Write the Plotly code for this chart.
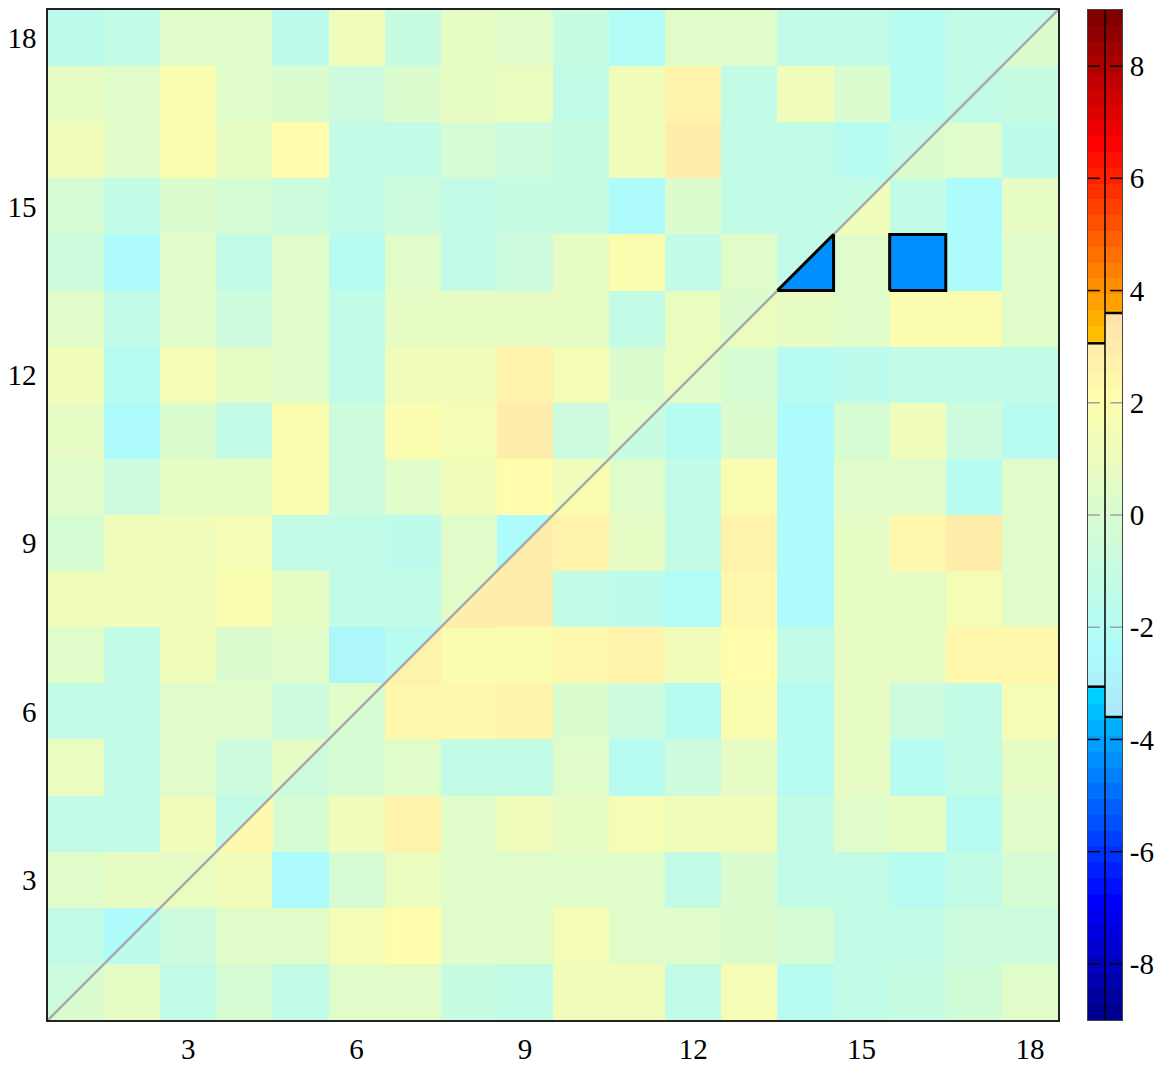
import numpy as np
import plotly.graph_objects as go

# ---------------- data (rows listed from y=18 at top down to y=1) ----------------
N = 18
row_values = [
    [-1.5, -1.2, 0.3, 0.3, -1.5, 1.2, -1.0, 0.8, 0.4, -1.0, -2.2, 0.3, 0.3, -1.2, -1.2, -1.9, -1.2, None],
    [0.6, 0.4, 1.8, 0.3, 0.2, -0.7, 0.0, 0.6, 0.9, -1.2, 1.4, 2.7, -1.2, 1.2, 0.0, -1.9, None, -1.0],
    [1.3, 0.4, 1.8, 0.8, 2.1, -1.2, -1.2, -0.2, -0.6, -1.0, 1.3, 2.9, -1.2, -1.2, -1.9, None, 0.3, -1.5],
    [-0.2, -1.2, 0.2, -0.2, -0.7, -1.2, -0.7, -1.2, -1.0, -0.9, -2.3, 0.0, -1.2, -1.2, None, -1.2, -2.5, 0.6],
    [-0.7, -2.5, 0.3, -1.2, 0.3, -1.9, 0.3, -1.2, -0.8, 0.6, 1.8, -1.2, 0.3, None, 0.3, -4.4, -2.5, 0.3],
    [0.3, -1.2, 0.3, -0.7, 0.3, -1.2, 0.6, 0.6, 0.6, 0.8, -1.2, 1.1, None, 0.8, 0.3, 1.8, 1.8, 0.3],
    [1.2, -1.7, 1.6, 0.6, 0.4, -1.2, 1.2, 1.2, 2.6, 1.5, 0.0, None, -0.2, -1.9, -1.6, -1.2, -1.2, -1.2],
    [0.6, -2.5, 0.1, -1.2, 1.8, -0.7, 1.8, 1.6, 3.0, -0.7, None, -1.9, 0.0, -2.4, -0.2, 1.2, -0.7, -1.9],
    [0.3, -0.7, 0.6, 0.6, 1.9, -0.7, 0.5, 1.2, 2.2, None, 0.3, -1.2, 1.8, -2.5, 0.3, 0.3, -1.9, 0.3],
    [-0.2, 1.3, 1.3, 1.5, -1.2, -1.2, -1.5, 0.3, None, 2.8, 0.6, -1.2, 2.6, -2.5, 0.6, 2.3, 3.0, 0.3],
    [1.3, 1.3, 1.3, 1.8, 0.6, -1.2, -1.2, None, 3.0, -1.2, -1.5, -2.2, 2.3, -2.5, 0.6, 0.6, 1.6, 0.3],
    [0.3, -1.2, 1.2, 0.0, 0.3, -2.7, None, 1.8, 1.9, 2.3, 2.8, 1.3, 2.2, -1.2, 0.6, 0.6, 2.3, 2.3],
    [-1.2, -1.2, 0.3, 0.3, -0.7, None, 2.3, 2.3, 2.8, 0.0, -0.7, -1.9, 1.8, -1.9, 0.6, -0.7, -1.2, 1.6],
    [1.1, -1.2, 0.3, -0.7, None, -0.2, 0.4, -1.2, -1.2, 0.4, -1.9, -0.7, 0.6, -1.9, 0.6, -1.9, -1.2, 0.6],
    [-1.2, -1.2, 1.3, None, -0.2, 1.3, 2.8, 0.4, 1.4, 0.6, 1.6, 1.2, 1.4, -1.2, 0.3, 0.6, -1.7, 0.3],
    [0.4, 0.6, None, 1.3, -2.5, -0.2, 1.1, 0.4, 0.3, 0.4, 0.3, -1.2, 0.1, -1.2, -1.2, -1.9, -1.2, -0.2],
    [-1.2, None, -0.7, 0.4, 0.4, 1.6, 2.2, 0.4, 0.3, 1.6, 0.3, 0.5, 0.1, -0.2, -1.2, -1.2, -0.8, -0.7],
    [None, 0.8, -1.2, -0.2, -1.4, 0.3, 0.5, -0.9, -1.2, 1.3, 1.3, -1.2, 1.6, -1.9, -1.2, -0.9, -0.5, 0.3],
]
# diagonal cells are split: upper-left triangle and lower-right triangle (index 0 -> cell 1)
diag_upper = [-0.8, -2.5, 0.8, -1.2, 0.6, 0.3, -1.9, 0.3, -2.3, 1.2, 0.3, 1.1, 0.1, -1.2, -1.2, -1.2, -1.2, -1.2]
diag_lower = [0.0, -1.5, 0.9, 2.3, -0.7, -0.2, 2.7, 2.9, 2.9, 1.8, -0.9, 0.3, 1.1, -4.4, 1.2, 0.2, -1.2, 0.2]

thr_upper = 3.06   # threshold used for the upper-left triangle (left column of the colour bar)
thr_lower = 3.6    # threshold used for the lower-right triangle (right column of the colour bar)
vmin, vmax = -9.0, 9.0
tick_vals = [3, 6, 9, 12, 15, 18]
cbar_ticks = [-8, -6, -4, -2, 0, 2, 4, 6, 8]

# ---------------- colour maps ----------------
NL = 64
def jet_table(n=64):
    m = n // 4
    u = [i / m for i in range(1, m + 1)] + [1.0] * (m - 1) + [i / m for i in range(m, 0, -1)]
    J = np.zeros((n, 3))
    g0 = int(np.ceil(m / 2)) - (1 if n % 4 == 1 else 0)
    for idx, val in enumerate(u):
        gi = g0 + idx + 1
        ri = gi + m
        bi = gi - m
        if 1 <= gi <= n: J[gi - 1, 1] = val
        if 1 <= ri <= n: J[ri - 1, 0] = val
        if 1 <= bi <= n: J[bi - 1, 2] = val
    return J

JET = jet_table(NL)
ALPHA = 0.32
PALE = 1 - ALPHA * (1 - JET)
PALE = PALE * np.array([1.0, 0.99, 0.985])

def rgb(c):
    return "rgb(%d,%d,%d)" % tuple(int(round(255 * v)) for v in c)

colors_all = [rgb(c) for c in JET] + [rgb(c) for c in PALE]
NC = len(colors_all)
colorscale = []
for i, col in enumerate(colors_all):
    colorscale.append([i / NC, col])
    colorscale.append([(i + 1) / NC, col])

def level(v):
    return int(min(NL - 1, max(0, np.floor((v - vmin) / (vmax - vmin) * NL))))

def cidx(v, thr):
    if v is None:
        return None
    return level(v) + (0 if abs(v) >= thr else NL)

def ccol(v, thr):
    return colors_all[cidx(v, thr)]

# ---------------- build main matrix ----------------
vals = [row for row in reversed(row_values)]  # vals[y-1][x-1]
z = []
for yi in range(N):
    zr = []
    for xi in range(N):
        if xi == yi:
            zr.append(cidx(diag_upper[xi], thr_upper))
        elif yi > xi:
            zr.append(cidx(vals[yi][xi], thr_upper))
        else:
            zr.append(cidx(vals[yi][xi], thr_lower))
    z.append(zr)

idx = list(range(1, N + 1))
fig = go.Figure()
fig.add_trace(go.Heatmap(x=idx, y=idx, z=z, colorscale=colorscale, zmin=-0.5, zmax=NC - 0.5,
                         showscale=False, hoverinfo="skip", xaxis="x", yaxis="y"))

# lower-right triangles of diagonal cells
for i, v in enumerate(diag_lower):
    c = i + 1
    col = ccol(v, thr_lower)
    fig.add_trace(go.Scatter(x=[c - 0.5, c + 0.5, c + 0.5, c - 0.5], y=[c - 0.5, c - 0.5, c + 0.5, c - 0.5],
                             mode="lines", fill="toself", fillcolor=col,
                             line=dict(width=1, color=col), hoverinfo="skip",
                             showlegend=False, xaxis="x", yaxis="y"))

# diagonal grey line
fig.add_trace(go.Scatter(x=[0.5, N + 0.5], y=[0.5, N + 0.5], mode="lines",
                         line=dict(color="#a9a9a9", width=2.5), hoverinfo="skip",
                         showlegend=False, xaxis="x", yaxis="y"))

# outlines of significant cells
ox, oy = [], []
for yi in range(N):
    for xi in range(N):
        cx, cy = xi + 1, yi + 1
        if xi == yi:
            if abs(diag_lower[xi]) >= thr_lower:
                ox += [cx - 0.5, cx + 0.5, cx + 0.5, cx - 0.5, None]
                oy += [cy - 0.5, cy - 0.5, cy + 0.5, cy - 0.5, None]
            if abs(diag_upper[xi]) >= thr_upper:
                ox += [cx - 0.5, cx - 0.5, cx + 0.5, cx - 0.5, None]
                oy += [cy - 0.5, cy + 0.5, cy + 0.5, cy - 0.5, None]
        else:
            v = vals[yi][xi]
            thr = thr_upper if yi > xi else thr_lower
            if abs(v) >= thr:
                ox += [cx - 0.5, cx + 0.5, cx + 0.5, cx - 0.5, cx - 0.5, None]
                oy += [cy - 0.5, cy - 0.5, cy + 0.5, cy + 0.5, cy - 0.5, None]
fig.add_trace(go.Scatter(x=ox, y=oy, mode="lines", line=dict(color="black", width=3),
                         hoverinfo="skip", showlegend=False, xaxis="x", yaxis="y"))

# ---------------- two-column colour bar ----------------
thr_cols = [thr_upper, thr_lower]
edges = set(round(vmin + k * (vmax - vmin) / NL, 6) for k in range(NL + 1))
for t in thr_cols:
    edges.add(t); edges.add(-t)
edges = sorted(edges)
cb_z = []
for a, b in zip(edges[:-1], edges[1:]):
    mid = 0.5 * (a + b)
    cb_z.append([cidx(mid, t) for t in thr_cols])
fig.add_trace(go.Heatmap(x=[-0.5, 0.5, 1.5], y=edges, z=cb_z, colorscale=colorscale,
                         zmin=-0.5, zmax=NC - 0.5, showscale=False, hoverinfo="skip",
                         xaxis="x2", yaxis="y2"))
# divider between columns
fig.add_trace(go.Scatter(x=[0.5, 0.5], y=[vmin, vmax], mode="lines", line=dict(color="black", width=1.5),
                         hoverinfo="skip", showlegend=False, xaxis="x2", yaxis="y2"))
# threshold lines
tx, ty = [], []
for ci, t in enumerate(thr_cols):
    for s in (t, -t):
        tx += [ci - 0.5, ci + 0.5, None]
        ty += [s, s, None]
fig.add_trace(go.Scatter(x=tx, y=ty, mode="lines", line=dict(color="black", width=2.5),
                         hoverinfo="skip", showlegend=False, xaxis="x2", yaxis="y2"))
# tick dashes inside the bar
for tv_group, col in (([t for t in cbar_ticks if abs(t) >= 4], "black"),
                      ([t for t in cbar_ticks if abs(t) < 4], "#a0a0a0")):
    xs, ys = [], []
    for t in tv_group:
        xs += [-0.22, 1.22]
        ys += [t, t]
    fig.add_trace(go.Scatter(x=xs, y=ys, mode="markers",
                             marker=dict(symbol="line-ew", size=10, color=col,
                                         line=dict(color=col, width=1.5)),
                             hoverinfo="skip", showlegend=False, xaxis="x2", yaxis="y2"))

# figure fills the whole window (body margin removed in post_script below)
W, H = 1159, 1068
def fx(px):  # page x pixel -> paper fraction
    return px / W
def fy(py):  # page y pixel -> paper fraction (from bottom)
    return (H - py) / H

font = dict(family="Liberation Serif, Times New Roman, serif", size=29, color="black")
fig.update_layout(
    width=W, height=H, margin=dict(l=0, r=0, t=0, b=0, pad=0), autosize=False,
    paper_bgcolor="white", plot_bgcolor="white", showlegend=False, font=font,
    xaxis=dict(domain=[fx(48), fx(1058)], range=[0.5, N + 0.5], tickvals=tick_vals,
               ticktext=[str(t) for t in tick_vals], ticks="outside", ticklen=2,
               tickcolor="rgba(0,0,0,0)", showgrid=False, zeroline=False, showline=True,
               mirror=True, linecolor="#222", linewidth=1.5, tickfont=font, anchor="y",
               automargin=False),
    yaxis=dict(domain=[fy(1020), fy(10)], range=[0.5, N + 0.5], tickvals=tick_vals,
               ticktext=[str(t) for t in tick_vals], ticks="outside", ticklen=4,
               tickcolor="rgba(0,0,0,0)", showgrid=False, zeroline=False, showline=True,
               mirror=True, linecolor="#222", linewidth=1.5, tickfont=font, anchor="x",
               automargin=False),
    xaxis2=dict(domain=[fx(1088), fx(1122)], range=[-0.5, 1.5], showticklabels=False,
                showgrid=False, zeroline=False, showline=True, mirror=True,
                linecolor="#444", linewidth=1, anchor="y2", ticks="", automargin=False),
    yaxis2=dict(domain=[fy(1020), fy(10)], range=[vmin, vmax], side="right",
                tickvals=cbar_ticks, ticktext=[str(t) for t in cbar_ticks], ticks="outside",
                ticklen=1, tickcolor="rgba(0,0,0,0)",
                showgrid=False, zeroline=False, showline=True, mirror=True,
                linecolor="#444", linewidth=1, anchor="x2", tickfont=font, automargin=False),
)

fig.write_html("out.html", config={"displayModeBar": False},
               post_script="document.body.style.margin='0';document.body.style.overflow='hidden';")
